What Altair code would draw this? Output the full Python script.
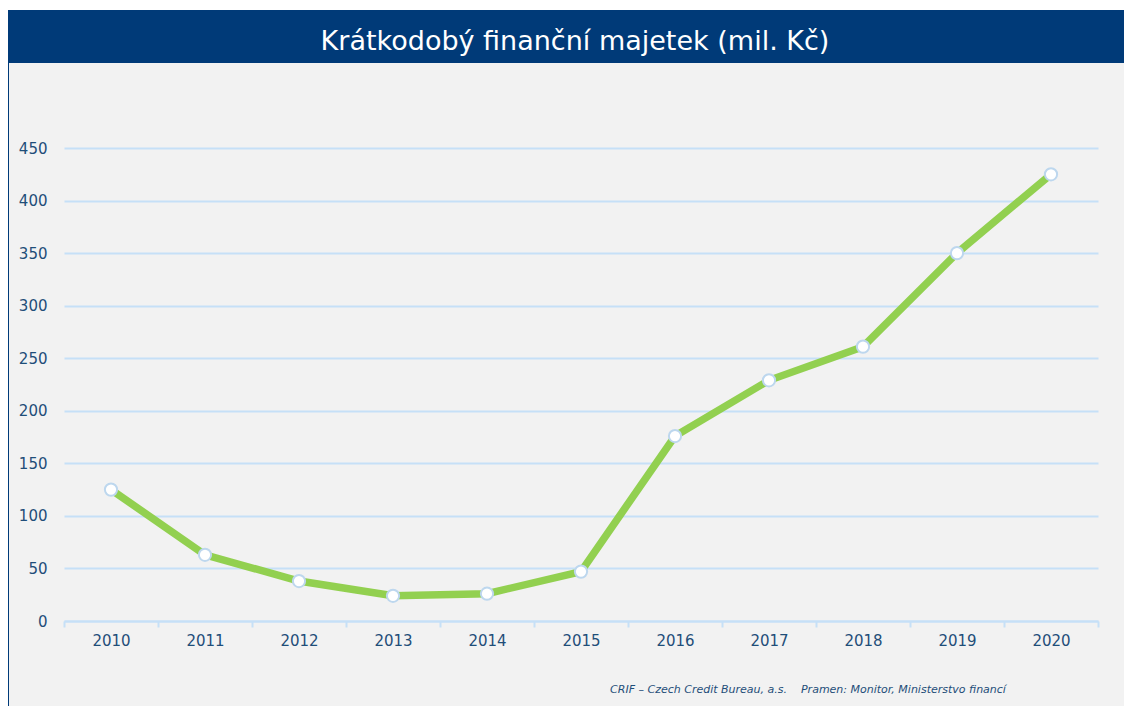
import altair as alt
import pandas as pd

years = ["2010", "2011", "2012", "2013", "2014", "2015", "2016", "2017", "2018", "2019", "2020"]
values = [125, 63, 38, 24, 26, 47, 176, 229, 261, 350, 425]
y_ticks = [0, 50, 100, 150, 200, 250, 300, 350, 400, 450]
title_text = "Krátkodobý finanční majetek (mil. Kč)"
footer_text = "CRIF – Czech Credit Bureau, a.s.\u00a0\u00a0\u00a0\u00a0Pramen: Monitor, Ministerstvo financí"

df = pd.DataFrame({"year": years, "value": values})
one = pd.DataFrame({"t": [0]})

LABEL = "#1f4e79"
NAVY = "#003a78"

x_enc = alt.X(
    "year:O",
    bandPosition=0.5,
    scale=alt.Scale(type="band", paddingInner=0, paddingOuter=0),
    axis=alt.Axis(
        title=None, labelAngle=0, labelColor=LABEL, labelFontSize=15,
        labelFont="DejaVu Sans", domainColor="#c6e0f7", domainWidth=2,
        tickColor="#c6e0f7", tickWidth=2, tickSize=6, tickBand="extent",
        labelPadding=6, grid=False,
    ),
)
y_enc = alt.Y(
    "value:Q",
    scale=alt.Scale(domain=[0, 450], nice=False),
    axis=alt.Axis(
        title=None, values=y_ticks, labelColor=LABEL, labelFontSize=15,
        labelFont="DejaVu Sans", domain=False, ticks=False, labelPadding=17,
        gridColor="#c6e0f7", gridWidth=2,
    ),
)

base = alt.Chart(df)
line = base.mark_line(color="#92d050", strokeWidth=7.5).encode(x=x_enc, y=y_enc)
points = base.mark_point(
    shape="circle", filled=True, fill="#ffffff", stroke="#bdd7ee",
    strokeWidth=2, size=150, opacity=1,
).encode(x=x_enc, y=y_enc)

topstrip = alt.Chart(one).mark_rect(color="#ffffff").encode(
    x=alt.value(-57), x2=alt.value(1070), y=alt.value(-141), y2=alt.value(-138)
)
header = alt.Chart(one).mark_rect(color=NAVY).encode(
    x=alt.value(-57), x2=alt.value(1070), y=alt.value(-138), y2=alt.value(-85)
)
border = alt.Chart(one).mark_rect(color=NAVY).encode(
    x=alt.value(-57), x2=alt.value(-55), y=alt.value(-138), y2=alt.value(600)
)
title = alt.Chart(one).mark_text(
    text=title_text, color="#ffffff", fontSize=27, font="DejaVu Sans",
    align="center", baseline="alphabetic",
).encode(x=alt.value(511), y=alt.value(-98))
footer = alt.Chart(one).mark_text(
    text=footer_text, color=LABEL, fontSize=11, font="DejaVu Sans",
    fontStyle="italic", align="center", baseline="alphabetic",
).encode(x=alt.value(744), y=alt.value(545))

chart = alt.layer(topstrip, header, border, title, line, points, footer).properties(
    width=1034,
    height=473,
    background="#f2f2f2",
    padding={"left": 56, "top": 140, "right": 26, "bottom": 85},
    autosize=alt.AutoSizeParams(type="none"),
).configure_view(stroke=None)

chart.save("out.html", embed_options={"renderer": "svg", "actions": False})
